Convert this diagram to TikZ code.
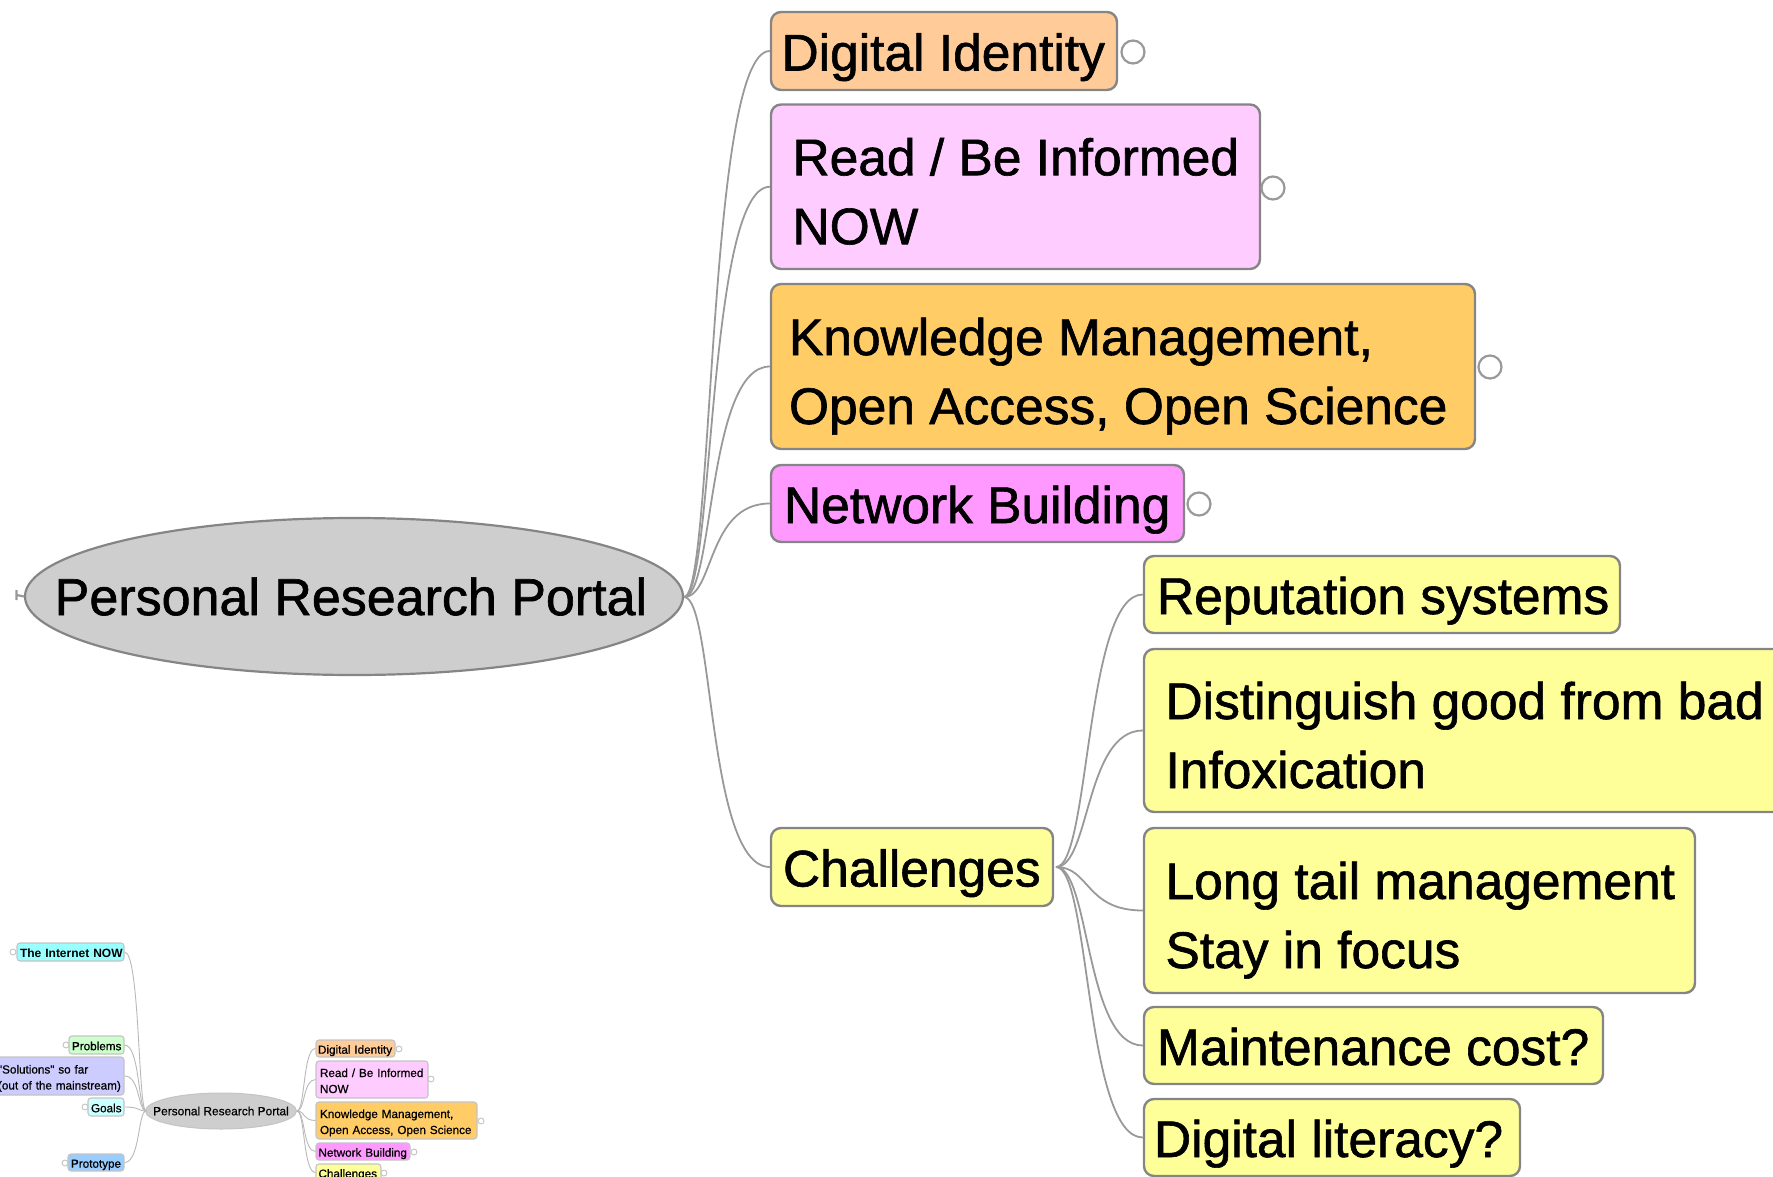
\documentclass[tikz,border=0pt]{standalone}
\usepackage{fontspec}
\setmainfont{Liberation Sans}
\newfontfamily\heavy[FakeBold=1.2]{Liberation Sans}
\newfontfamily\miniheavy[FakeBold=0.6]{Liberation Sans}
\usetikzlibrary{shapes.geometric}
\definecolor{linec}{HTML}{999999}
\definecolor{borderc}{HTML}{858585}
\definecolor{miniborder}{HTML}{C4C4C4}
\definecolor{rootfill}{HTML}{CECECE}
\tikzset{
  big/.style={draw=borderc,line width=2.4pt,rounded corners=10pt,align=left,inner ysep=0pt,
    font=\heavy\fontsize{51.5}{69}\selectfont,
    execute at begin node={\spaceskip=0pt\xspaceskip=0pt\relax}},
  bigone/.style={big,text height=39pt,text depth=0pt},
  bigtwo/.style={big,text height=46pt,text depth=69pt},
  mini/.style={draw=miniborder,line width=1.1pt,rounded corners=3pt,align=left,inner ysep=0pt,
    font=\miniheavy\fontsize{11.7}{16}\selectfont},
  minione/.style={mini,text height=10.4pt,text depth=0pt},
  minitwo/.style={mini,text height=11pt,text depth=16pt},
  link/.style={draw=linec,line width=1.8pt},
  minilink/.style={draw=linec!70,line width=0.9pt},
  hook/.style={circle,draw=linec,line width=2.2pt,fill=white,minimum size=23pt,inner sep=0pt},
  minihook/.style={circle,draw=miniborder,line width=0.9pt,fill=white,minimum size=6pt,inner sep=0pt},
  rootbig/.style={ellipse,draw=borderc,line width=2.2pt,fill=rootfill,inner sep=0pt,
    font=\heavy\fontsize{52}{69}\selectfont},
  rootmini/.style={ellipse,draw=miniborder,line width=1pt,fill=rootfill,inner sep=0pt,
    font=\miniheavy\fontsize{11.9}{16}\selectfont},
}
\newcommand{\topic}[8]{%
  \pgfmathsetmacro\tw{#5-#3-2*#7}%
  \pgfmathsetmacro\hh{#6-#4}%
  \pgfmathsetmacro\ww{#5-#3}%
  \pgfmathsetmacro\cx{(#3+#5)/2}%
  \pgfmathsetmacro\cy{(#4+#6)/2}%
  \node[#1,text width=\tw pt,inner xsep=#7 pt,minimum height=\hh pt,minimum width=\ww pt] (#2) at (\cx,\cy) {#8};}
\newcommand{\curve}[5]{% style, from, to, offset1, offset2
  \draw[#1] (#2) .. controls ([xshift=#4 pt]#2) and ([xshift=#5 pt]#2 |- #3.west) .. (#3.west);}
\begin{document}
\begin{tikzpicture}[x=1pt,y=-1pt]
\useasboundingbox (0,0) rectangle (1773,1177);
\clip (0,0) rectangle (1773,1177);
% --- main view
\coordinate (stub) at (16.5,595);
\node[rootbig,minimum width=658pt,minimum height=157pt] (root) at (354,596.5) {\kern-3pt\makebox[0pt]{Personal Research Portal}\kern3pt};
\draw[draw=linec,line width=2.2pt] ([yshift=-5pt]stub) -- ([yshift=5pt]stub) (stub) -- (root.west);
\coordinate (rootout) at (684,597);
\topic{bigone,fill={rgb,255:red,255;green,204;blue,153}}{di}{771}{12}{1117}{90}{10.5}{\mbox{Digital Identity}}
\topic{bigtwo,fill={rgb,255:red,255;green,204;blue,255}}{rb}{771}{104.5}{1260}{269}{21.5}{\mbox{Read / Be Informed}\\\mbox{NOW}}
\topic{bigtwo,fill={rgb,255:red,255;green,204;blue,102}}{km}{771}{284}{1475}{449}{18}{\mbox{Knowledge Management,}\\\mbox{Open Access, Open Science}}
\topic{bigone,fill={rgb,255:red,255;green,153;blue,255}}{nb}{771}{465}{1184}{542}{13}{\mbox{Network Building}}
\topic{bigone,fill={rgb,255:red,255;green,255;blue,153}}{ch}{771}{828}{1053}{906}{12}{\mbox{Challenges}}
\coordinate (chout) at (1056,867);
\topic{bigone,fill={rgb,255:red,255;green,255;blue,153}}{rs}{1144}{556}{1620}{633}{13}{\mbox{Reputation systems}}
\topic{bigtwo,fill={rgb,255:red,255;green,255;blue,153}}{dg}{1144}{649}{1790}{812}{21.5}{\mbox{Distinguish good from bad}\\\mbox{Infoxication}}
\topic{bigtwo,fill={rgb,255:red,255;green,255;blue,153}}{lt}{1144}{828}{1695}{993}{21.5}{\mbox{Long tail management}\\\mbox{Stay in focus}}
\topic{bigone,fill={rgb,255:red,255;green,255;blue,153}}{mc}{1144}{1007}{1603}{1084}{13}{\mbox{Maintenance cost?}}
\topic{bigone,fill={rgb,255:red,255;green,255;blue,153}}{dl}{1144}{1099}{1520}{1176}{10}{\mbox{Digital literacy?}}
\node[hook] (h1) at (1133,52) {};
\node[hook] (h2) at (1273,188) {};
\node[hook] (h3) at (1490,367) {};
\node[hook] (h4) at (1199,504) {};
\foreach \t in {di,rb,km,nb,ch} {\curve{link}{rootout}{\t}{30}{23}}
\foreach \t in {rs,dg,lt,mc,dl} {\curve{link}{chout}{\t}{34}{29}}
% --- overview
\coordinate (mrootr) at (297,1111);
\coordinate (mrootl) at (146,1111);
\topic{minione,fill={rgb,255:red,153;green,255;blue,255},font=\fontsize{12}{16}\selectfont\bfseries}{mi}{17}{943}{124}{961}{3}{\mbox{The Internet NOW}}
\topic{minione,fill={rgb,255:red,204;green,255;blue,204}}{mp}{69}{1036}{124}{1054}{3}{\mbox{Problems}}
\topic{minitwo,fill={rgb,255:red,204;green,204;blue,255}}{ms}{-8}{1057}{124}{1095}{6}{\mbox{"Solutions" so far}\\\mbox{(out of the mainstream)}}
\topic{minione,fill={rgb,255:red,204;green,255;blue,255}}{mg}{88}{1098}{124}{1116}{3}{\mbox{Goals}}
\topic{minione,fill={rgb,255:red,153;green,204;blue,255}}{mt}{68}{1154}{124}{1171}{3}{\mbox{Prototype}}
\node[rootmini,minimum width=151pt,minimum height=36pt] (mroot) at (221,1111) {\makebox[0pt]{Personal Research Portal}};
\topic{minione,fill={rgb,255:red,255;green,204;blue,153}}{mdi}{316}{1040}{395}{1057}{2}{\mbox{Digital Identity}}
\topic{minitwo,fill={rgb,255:red,255;green,204;blue,255}}{mrb}{316}{1061}{428}{1098}{4}{\mbox{Read / Be Informed}\\\mbox{NOW}}
\topic{minitwo,fill={rgb,255:red,255;green,204;blue,102}}{mkm}{316}{1102}{477}{1139}{4}{\mbox{Knowledge Management,}\\\mbox{Open Access, Open Science}}
\topic{minione,fill={rgb,255:red,255;green,153;blue,255}}{mnb}{316}{1143}{410}{1160}{2.5}{\mbox{Network Building}}
\topic{minione,fill={rgb,255:red,255;green,255;blue,153}}{mch}{316}{1164}{381}{1181}{2.5}{\mbox{Challenges}}
\foreach \n/\x/\y in {c1/13/952,c2/66/1045,c3/85/1107,c4/65/1163,c5/399/1049,c6/431/1079,c7/481/1121,c8/414/1152,c9/384/1173}
  {\node[minihook] (\n) at (\x,\y) {};}
\foreach \t in {mdi,mrb,mkm,mnb,mch} {\curve{minilink}{mrootr}{\t}{8}{6}}
\foreach \t in {mi,mp,ms,mg,mt} {\draw[minilink] (mrootl) .. controls ([xshift=-8pt]mrootl) and ([xshift=-6pt]mrootl |- \t.east) .. (\t.east);}
\end{tikzpicture}
\end{document}
